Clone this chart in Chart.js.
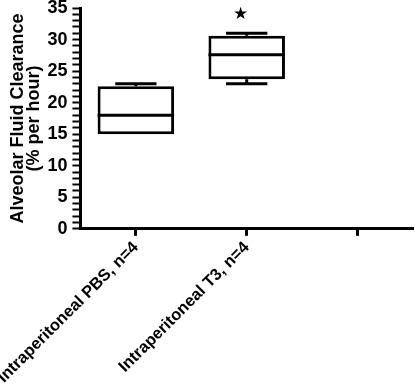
<!DOCTYPE html>
<html>
<head>
<meta charset="utf-8">
<script src="https://cdn.jsdelivr.net/npm/chart.js@4"></script>
<style>
  body { margin: 0; background: #fff; }
  #wrap { width: 415px; height: 389px; }
</style>
</head>
<body>
<div id="wrap"><canvas id="boxChart"></canvas></div>
<script>
// groups (third slot is an empty category on the axis)
var categories = ["Intraperitoneal PBS, n=4", "Intraperitoneal T3, n=4", ""];
var mins    = [15,   23];
var q1      = [15,   23.7];
var medians = [18,   27.6];
var q3      = [22.6, 30.6];
var maxs    = [23,   31];
var marks   = ["", "\u2605"];   // significance mark over each group
var markAt  = 34;
var yTicks  = [0, 5, 10, 15, 20, 25, 30, 35];

var fontFam = "'Liberation Sans', Arial, sans-serif";

var boxes = categories.map(function(c, i) {
    return i < q1.length ? [q1[i], q3[i]] : null;
});

// medians, whiskers and the star, placed with the chart's own scales
var boxExtras = {
    id: 'boxExtras',
    afterDatasetsDraw: function(chart) {
        var ctx = chart.ctx;
        var y = chart.scales.y;
        var meta = chart.getDatasetMeta(0);
        ctx.save();
        ctx.strokeStyle = '#000';
        ctx.lineWidth = 3;
        ctx.lineCap = 'butt';
        for (var i = 0; i < q1.length; i++) {
            var bar = meta.data[i];
            var cx = bar.x, half = bar.width / 2, cap = bar.width * 0.27;
            ctx.beginPath();
            ctx.moveTo(cx - half, y.getPixelForValue(medians[i]));
            ctx.lineTo(cx + half, y.getPixelForValue(medians[i]));
            if (maxs[i] > q3[i]) {
                ctx.moveTo(cx, y.getPixelForValue(q3[i]));
                ctx.lineTo(cx, y.getPixelForValue(maxs[i]));
                ctx.moveTo(cx - cap, y.getPixelForValue(maxs[i]));
                ctx.lineTo(cx + cap, y.getPixelForValue(maxs[i]));
            }
            if (mins[i] < q1[i]) {
                ctx.moveTo(cx, y.getPixelForValue(q1[i]));
                ctx.lineTo(cx, y.getPixelForValue(mins[i]));
                ctx.moveTo(cx - cap, y.getPixelForValue(mins[i]));
                ctx.lineTo(cx + cap, y.getPixelForValue(mins[i]));
            }
            ctx.stroke();
            if (marks[i]) {
                ctx.fillStyle = '#000';
                ctx.font = '17px "DejaVu Sans", sans-serif';
                ctx.textAlign = 'center';
                ctx.textBaseline = 'middle';
                ctx.fillText(marks[i], cx - 6, y.getPixelForValue(markAt));
            }
        }
        ctx.restore();
    }
};

var ctx = document.getElementById("boxChart").getContext("2d");
new Chart(ctx, {
    type: 'bar',
    data: {
        labels: categories,
        datasets: [{
            data: boxes,
            backgroundColor: '#fff',
            borderColor: '#000',
            borderWidth: 3,
            borderSkipped: false,
            categoryPercentage: 1,
            barPercentage: 0.69
        }]
    },
    options: {
        responsive: true,
        maintainAspectRatio: false,
        animation: false,
        layout: { padding: { top: 0, right: 2, left: 10, bottom: 0 } },
        plugins: {
            legend: { display: false },
            tooltip: { enabled: false }
        },
        scales: {
            x: {
                offset: true,
                border: { color: '#000', width: 3 },
                grid: {
                    offset: false,
                    drawOnChartArea: false,
                    color: '#000',
                    tickLength: 7,
                    tickWidth: 3
                },
                ticks: {
                    color: '#000',
                    minRotation: 45,
                    maxRotation: 45,
                    autoSkip: false,
                    padding: 2,
                    font: { family: fontFam, size: 16.5, weight: 'bold' }
                },
                // rotated labels may run past the left edge of the plot, as in the figure
                afterFit: function(scale) {
                    scale.paddingLeft = 0;
                    scale.paddingRight = 0;
                }
            },
            y: {
                min: 0,
                max: 35,
                border: { color: '#000', width: 3 },
                grid: {
                    drawOnChartArea: false,
                    color: '#000',
                    tickLength: 8,
                    tickWidth: 2
                },
                ticks: {
                    stepSize: 1,
                    autoSkip: false,
                    color: '#000',
                    padding: 5,
                    font: { family: fontFam, size: 18, weight: 'bold' },
                    callback: function(v) { return yTicks.indexOf(v) >= 0 ? v : ''; }
                },
                title: {
                    display: true,
                    text: ['Alveolar Fluid Clearance', '(% per hour)'],
                    color: '#000',
                    padding: 0,
                    font: { family: fontFam, size: 18, weight: 'bold', lineHeight: 0.9 }
                },
                afterFit: function(scale) {
                    scale.paddingTop = 8;
                    scale.paddingBottom = 0;
                }
            }
        }
    },
    plugins: [boxExtras]
});
</script>
</body>
</html>
